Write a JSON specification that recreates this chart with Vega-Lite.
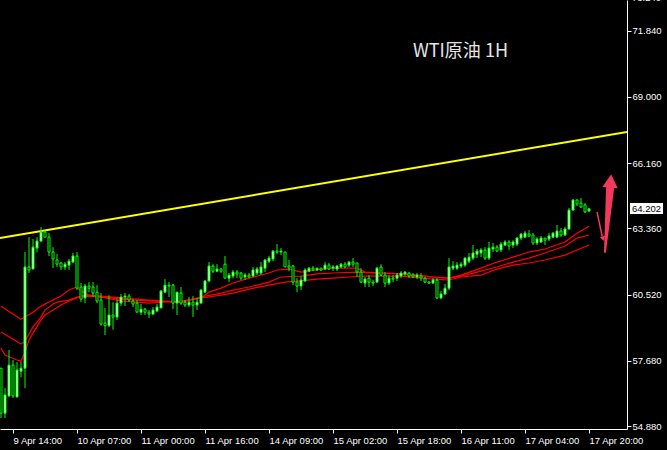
{
"$schema": "https://vega.github.io/schema/vega-lite/v6.json",
"width": 627, "height": 429,
"autosize": {"type": "none"},
"padding": {"left": 0, "top": 0, "right": 40, "bottom": 21},
"background": "#000000",
"config": {"view": {"stroke": null}},
"datasets": {
"candles": [
{"i":0,"o":57.37,"h":57.37,"l":55.23,"c":55.44},
{"i":1,"o":55.44,"h":56.51,"l":55.23,"c":56.22},
{"i":2,"o":56.18,"h":58.15,"l":56.13,"c":57.50},
{"i":3,"o":57.50,"h":57.72,"l":56.09,"c":56.18},
{"i":4,"o":56.13,"h":57.63,"l":56.13,"c":57.29},
{"i":5,"o":57.24,"h":57.63,"l":56.98,"c":57.37},
{"i":6,"o":57.37,"h":62.35,"l":56.51,"c":61.71},
{"i":7,"o":61.71,"h":62.99,"l":61.45,"c":61.58},
{"i":8,"o":61.62,"h":62.91,"l":61.62,"c":62.56},
{"i":9,"o":62.52,"h":62.99,"l":62.35,"c":62.82},
{"i":10,"o":62.82,"h":63.42,"l":62.78,"c":63.21},
{"i":11,"o":63.21,"h":63.29,"l":62.99,"c":62.99},
{"i":12,"o":62.99,"h":63.16,"l":62.18,"c":62.35},
{"i":13,"o":62.35,"h":62.56,"l":61.66,"c":62.05},
{"i":14,"o":62.01,"h":62.26,"l":61.71,"c":61.83},
{"i":15,"o":61.88,"h":61.92,"l":61.58,"c":61.71},
{"i":16,"o":61.71,"h":61.92,"l":61.58,"c":61.83},
{"i":17,"o":61.79,"h":62.05,"l":61.58,"c":61.96},
{"i":18,"o":61.92,"h":62.31,"l":61.88,"c":62.18},
{"i":19,"o":62.18,"h":62.35,"l":60.72,"c":60.80},
{"i":20,"o":60.85,"h":61.02,"l":60.20,"c":60.33},
{"i":21,"o":60.38,"h":60.98,"l":60.16,"c":60.89},
{"i":22,"o":60.89,"h":61.06,"l":60.63,"c":60.80},
{"i":23,"o":60.85,"h":61.06,"l":60.42,"c":60.59},
{"i":24,"o":60.63,"h":60.93,"l":60.16,"c":60.25},
{"i":25,"o":60.29,"h":60.59,"l":59.19,"c":59.26},
{"i":26,"o":59.30,"h":59.95,"l":58.79,"c":59.19},
{"i":27,"o":59.19,"h":60.50,"l":59.14,"c":59.65},
{"i":28,"o":59.65,"h":60.20,"l":59.02,"c":59.56},
{"i":29,"o":59.56,"h":60.33,"l":59.43,"c":60.16},
{"i":30,"o":60.16,"h":60.55,"l":60.03,"c":60.42},
{"i":31,"o":60.42,"h":60.59,"l":60.03,"c":60.46},
{"i":32,"o":60.46,"h":60.55,"l":60.20,"c":60.29},
{"i":33,"o":60.25,"h":60.33,"l":59.99,"c":60.12},
{"i":34,"o":60.16,"h":60.29,"l":59.77,"c":59.77},
{"i":35,"o":59.77,"h":60.12,"l":59.65,"c":59.90},
{"i":36,"o":59.90,"h":59.95,"l":59.65,"c":59.77},
{"i":37,"o":59.77,"h":59.86,"l":59.52,"c":59.69},
{"i":38,"o":59.69,"h":59.99,"l":59.65,"c":59.86},
{"i":39,"o":59.82,"h":60.12,"l":59.77,"c":59.99},
{"i":40,"o":59.95,"h":60.72,"l":59.95,"c":60.68},
{"i":41,"o":60.63,"h":61.19,"l":60.59,"c":60.93},
{"i":42,"o":60.93,"h":61.06,"l":60.42,"c":60.89},
{"i":43,"o":60.93,"h":60.98,"l":59.90,"c":60.16},
{"i":44,"o":60.16,"h":60.63,"l":59.65,"c":60.63},
{"i":45,"o":60.59,"h":60.85,"l":60.08,"c":60.16},
{"i":46,"o":60.20,"h":60.29,"l":59.99,"c":60.08},
{"i":47,"o":60.08,"h":60.42,"l":59.99,"c":60.20},
{"i":48,"o":60.20,"h":60.46,"l":59.56,"c":60.08},
{"i":49,"o":60.08,"h":60.38,"l":59.86,"c":60.20},
{"i":50,"o":60.16,"h":60.76,"l":60.12,"c":60.72},
{"i":51,"o":60.63,"h":61.15,"l":60.63,"c":61.11},
{"i":52,"o":61.11,"h":61.92,"l":61.06,"c":61.75},
{"i":53,"o":61.75,"h":61.83,"l":61.45,"c":61.53},
{"i":54,"o":61.53,"h":61.83,"l":61.49,"c":61.62},
{"i":55,"o":61.62,"h":61.66,"l":61.45,"c":61.53},
{"i":56,"o":61.83,"h":62.18,"l":61.23,"c":61.23},
{"i":57,"o":61.23,"h":61.45,"l":61.06,"c":61.36},
{"i":58,"o":61.32,"h":61.58,"l":61.23,"c":61.49},
{"i":59,"o":61.49,"h":61.58,"l":61.23,"c":61.41},
{"i":60,"o":61.45,"h":61.49,"l":61.15,"c":61.23},
{"i":61,"o":61.28,"h":61.45,"l":61.15,"c":61.36},
{"i":62,"o":61.36,"h":61.45,"l":61.23,"c":61.28},
{"i":63,"o":61.32,"h":61.71,"l":61.28,"c":61.58},
{"i":64,"o":61.45,"h":61.71,"l":61.36,"c":61.62},
{"i":65,"o":61.45,"h":61.92,"l":61.36,"c":61.71},
{"i":66,"o":61.66,"h":62.05,"l":61.49,"c":62.01},
{"i":67,"o":61.96,"h":62.18,"l":61.88,"c":62.09},
{"i":68,"o":62.05,"h":62.44,"l":61.96,"c":62.39},
{"i":69,"o":62.39,"h":62.69,"l":62.26,"c":62.35},
{"i":70,"o":62.35,"h":62.52,"l":62.22,"c":62.39},
{"i":71,"o":62.35,"h":62.35,"l":61.71,"c":61.71},
{"i":72,"o":61.75,"h":62.01,"l":61.53,"c":61.66},
{"i":73,"o":61.75,"h":61.79,"l":60.93,"c":61.06},
{"i":74,"o":61.06,"h":61.23,"l":60.63,"c":60.89},
{"i":75,"o":60.89,"h":61.32,"l":60.72,"c":61.15},
{"i":76,"o":61.11,"h":61.66,"l":61.06,"c":61.58},
{"i":77,"o":61.53,"h":61.71,"l":61.49,"c":61.66},
{"i":78,"o":61.66,"h":61.75,"l":61.53,"c":61.58},
{"i":79,"o":61.58,"h":61.66,"l":61.53,"c":61.66},
{"i":80,"o":61.66,"h":61.66,"l":61.53,"c":61.58},
{"i":81,"o":61.62,"h":61.92,"l":61.58,"c":61.79},
{"i":82,"o":61.79,"h":61.88,"l":61.58,"c":61.62},
{"i":83,"o":61.66,"h":61.79,"l":61.53,"c":61.71},
{"i":84,"o":61.62,"h":61.79,"l":61.53,"c":61.75},
{"i":85,"o":61.71,"h":61.88,"l":61.66,"c":61.83},
{"i":86,"o":61.83,"h":61.92,"l":61.66,"c":61.71},
{"i":87,"o":61.79,"h":61.96,"l":61.71,"c":61.92},
{"i":88,"o":61.92,"h":62.09,"l":61.71,"c":61.83},
{"i":89,"o":61.88,"h":61.88,"l":61.28,"c":61.49},
{"i":90,"o":61.49,"h":61.66,"l":61.02,"c":61.06},
{"i":91,"o":61.02,"h":61.28,"l":60.85,"c":61.19},
{"i":92,"o":61.23,"h":61.36,"l":60.85,"c":61.06},
{"i":93,"o":61.06,"h":61.15,"l":60.89,"c":61.02},
{"i":94,"o":61.06,"h":61.71,"l":61.02,"c":61.66},
{"i":95,"o":61.71,"h":61.83,"l":61.32,"c":61.36},
{"i":96,"o":61.36,"h":61.49,"l":60.85,"c":61.02},
{"i":97,"o":61.02,"h":61.36,"l":60.93,"c":61.23},
{"i":98,"o":61.23,"h":61.36,"l":61.06,"c":61.19},
{"i":99,"o":61.23,"h":61.45,"l":61.11,"c":61.36},
{"i":100,"o":61.32,"h":61.53,"l":61.23,"c":61.45},
{"i":101,"o":61.41,"h":61.53,"l":61.32,"c":61.49},
{"i":102,"o":61.45,"h":61.49,"l":61.23,"c":61.32},
{"i":103,"o":61.36,"h":61.45,"l":61.23,"c":61.28},
{"i":104,"o":61.28,"h":61.45,"l":61.19,"c":61.36},
{"i":105,"o":61.32,"h":61.45,"l":61.11,"c":61.23},
{"i":106,"o":61.23,"h":61.28,"l":61.02,"c":61.06},
{"i":107,"o":61.06,"h":61.11,"l":60.98,"c":61.02},
{"i":108,"o":61.02,"h":61.23,"l":60.98,"c":61.15},
{"i":109,"o":61.15,"h":61.23,"l":60.33,"c":60.38},
{"i":110,"o":60.38,"h":60.68,"l":60.33,"c":60.55},
{"i":111,"o":60.55,"h":60.98,"l":60.50,"c":60.80},
{"i":112,"o":60.80,"h":62.09,"l":60.72,"c":61.71},
{"i":113,"o":61.66,"h":61.96,"l":61.58,"c":61.75},
{"i":114,"o":61.66,"h":61.92,"l":61.58,"c":61.79},
{"i":115,"o":61.75,"h":61.92,"l":61.66,"c":61.83},
{"i":116,"o":61.79,"h":62.13,"l":61.71,"c":62.09},
{"i":117,"o":61.96,"h":62.31,"l":61.88,"c":62.13},
{"i":118,"o":62.09,"h":62.65,"l":62.01,"c":62.31},
{"i":119,"o":62.26,"h":62.48,"l":62.09,"c":62.39},
{"i":120,"o":62.31,"h":62.52,"l":62.13,"c":62.44},
{"i":121,"o":62.44,"h":62.56,"l":62.01,"c":62.09},
{"i":122,"o":62.09,"h":62.78,"l":62.01,"c":62.52},
{"i":123,"o":62.48,"h":62.74,"l":62.35,"c":62.56},
{"i":124,"o":62.56,"h":62.65,"l":62.35,"c":62.39},
{"i":125,"o":62.44,"h":62.78,"l":62.35,"c":62.69},
{"i":126,"o":62.65,"h":62.86,"l":62.61,"c":62.78},
{"i":127,"o":62.78,"h":62.86,"l":62.44,"c":62.61},
{"i":128,"o":62.65,"h":62.86,"l":62.52,"c":62.78},
{"i":129,"o":62.69,"h":62.99,"l":62.61,"c":62.95},
{"i":130,"o":62.95,"h":63.16,"l":62.86,"c":63.12},
{"i":131,"o":62.99,"h":63.25,"l":62.95,"c":63.16},
{"i":132,"o":63.12,"h":63.29,"l":62.99,"c":63.04},
{"i":133,"o":63.08,"h":63.16,"l":62.65,"c":62.74},
{"i":134,"o":62.74,"h":62.99,"l":62.65,"c":62.91},
{"i":135,"o":62.78,"h":63.04,"l":62.74,"c":62.95},
{"i":136,"o":62.95,"h":62.95,"l":62.65,"c":62.86},
{"i":137,"o":62.91,"h":63.16,"l":62.82,"c":63.04},
{"i":138,"o":62.99,"h":63.21,"l":62.95,"c":63.16},
{"i":139,"o":62.99,"h":63.51,"l":62.95,"c":63.25},
{"i":140,"o":63.25,"h":63.38,"l":62.99,"c":63.08},
{"i":141,"o":63.08,"h":63.42,"l":63.04,"c":63.34},
{"i":142,"o":63.34,"h":64.24,"l":63.29,"c":64.15},
{"i":143,"o":64.15,"h":64.62,"l":64.11,"c":64.58},
{"i":144,"o":64.58,"h":64.62,"l":64.32,"c":64.41},
{"i":145,"o":64.45,"h":64.67,"l":64.24,"c":64.28},
{"i":146,"o":64.37,"h":64.45,"l":64.02,"c":64.07},
{"i":147,"o":64.11,"h":64.24,"l":64.07,"c":64.20}
],
"maA": [
{"i":0,"p":60.03},{"i":5,"p":59.47},{"i":8,"p":59.77},{"i":10,"p":60.03},{"i":13,"p":60.29},{"i":15,"p":60.46},{"i":17,"p":60.72},{"i":19,"p":60.85},{"i":20,"p":60.68},{"i":22,"p":60.50},{"i":25,"p":60.46},{"i":30,"p":60.38},{"i":37,"p":60.29},{"i":45,"p":60.20},{"i":50,"p":60.38},{"i":55,"p":60.50},{"i":58,"p":60.59},{"i":62,"p":60.76},{"i":67,"p":60.93},{"i":71,"p":61.06},{"i":75,"p":61.11},{"i":79,"p":61.19},{"i":83,"p":61.23},{"i":87,"p":61.28},{"i":91,"p":61.32},{"i":100,"p":61.32},{"i":108,"p":61.19},{"i":112,"p":61.15},{"i":115,"p":61.28},{"i":120,"p":61.36},{"i":124,"p":61.62},{"i":128,"p":61.79},{"i":132,"p":61.88},{"i":136,"p":62.01},{"i":141,"p":62.22},{"i":144,"p":62.44},{"i":147,"p":62.65}
],
"maB": [
{"i":0,"p":58.92},{"i":5,"p":58.40},{"i":6,"p":58.53},{"i":7,"p":58.83},{"i":8,"p":59.14},{"i":10,"p":59.56},{"i":11,"p":59.86},{"i":13,"p":60.12},{"i":14,"p":60.20},{"i":17,"p":60.29},{"i":19,"p":60.42},{"i":22,"p":60.46},{"i":25,"p":60.42},{"i":30,"p":60.33},{"i":37,"p":60.25},{"i":45,"p":60.20},{"i":50,"p":60.42},{"i":55,"p":60.59},{"i":58,"p":60.72},{"i":62,"p":60.85},{"i":67,"p":61.06},{"i":70,"p":61.28},{"i":75,"p":61.32},{"i":79,"p":61.41},{"i":83,"p":61.45},{"i":89,"p":61.49},{"i":93,"p":61.45},{"i":100,"p":61.41},{"i":108,"p":61.28},{"i":112,"p":61.23},{"i":115,"p":61.32},{"i":120,"p":61.53},{"i":124,"p":61.71},{"i":128,"p":61.92},{"i":132,"p":62.09},{"i":136,"p":62.31},{"i":141,"p":62.61},{"i":144,"p":62.95},{"i":147,"p":63.08}
],
"maC": [
{"i":0,"p":58.23},{"i":1,"p":57.93},{"i":4,"p":57.72},{"i":5,"p":57.67},{"i":6,"p":58.06},{"i":7,"p":58.57},{"i":8,"p":58.87},{"i":10,"p":59.43},{"i":11,"p":59.65},{"i":13,"p":59.86},{"i":15,"p":60.08},{"i":17,"p":60.25},{"i":20,"p":60.46},{"i":22,"p":60.50},{"i":25,"p":60.42},{"i":30,"p":60.25},{"i":37,"p":60.16},{"i":45,"p":60.25},{"i":50,"p":60.38},{"i":52,"p":60.63},{"i":55,"p":60.80},{"i":58,"p":61.02},{"i":62,"p":61.23},{"i":67,"p":61.45},{"i":69,"p":61.58},{"i":72,"p":61.62},{"i":75,"p":61.49},{"i":79,"p":61.58},{"i":83,"p":61.66},{"i":89,"p":61.66},{"i":91,"p":61.49},{"i":96,"p":61.45},{"i":100,"p":61.41},{"i":104,"p":61.36},{"i":108,"p":61.28},{"i":112,"p":61.23},{"i":115,"p":61.36},{"i":120,"p":61.66},{"i":124,"p":61.92},{"i":128,"p":62.13},{"i":132,"p":62.35},{"i":136,"p":62.48},{"i":141,"p":62.78},{"i":144,"p":63.16},{"i":147,"p":63.46}
],
"trend": [{"i":-0.25,"p":62.95},{"i":156.5,"p":67.50}],
"bigArrow": [{"i":151.0,"p":62.35,"w":2},{"i":152.25,"p":65.05,"w":8}],
"bigHead": [{"i":152.4,"p":65.4}],
"smallArrow": [{"i":149.0,"p":64.07},{"i":150.3,"p":63.02}],
"smallHead": [{"i":150.5,"p":62.92}],
"priceBox": [{"i":157.25,"i2":165.5,"p":64.45,"p2":63.98,"t":"64.202","y":64.202}],
"topLabel": [{"i":157.75,"p":73.24,"t":"73.240"}],
"title": [{"i":103,"p":70.95,"t":"WTI原油 1H"}]
},
"layer": [
{
"data": {"name": "trend"},
"mark": {"type": "line", "color": "#ffff00", "strokeWidth": 2, "clip": true},
"encoding": {
"x": {"field": "i", "type": "quantitative",
"scale": {"domain": [-0.25, 156.5], "nice": false, "zero": false, "padding": 0},
"axis": {"orient": "bottom", "values": [3,19,35,51,67,83,99,115,131,147],
"labelExpr": "['9 Apr 14:00','10 Apr 07:00','11 Apr 00:00','11 Apr 16:00','14 Apr 09:00','15 Apr 02:00','15 Apr 18:00','16 Apr 11:00','17 Apr 04:00','17 Apr 20:00'][round((datum.value-3)/16)]",
"title": null, "grid": false, "domainColor": "#ffffff", "domainWidth": 1, "tickColor": "#ffffff", "tickSize": 4, "tickWidth": 1,
"labelColor": "#ffffff", "labelFont": "Liberation Sans", "labelFontSize": 9.5, "labelAlign": "left", "labelBaseline": "top", "labelPadding": 2, "labelOverlap": false, "labelFlush": false, "labelBound": false}},
"y": {"field": "p", "type": "quantitative",
"scale": {"domain": [54.76, 73.16], "nice": false, "zero": false, "padding": 0},
"axis": {"orient": "right", "values": [54.88,56.28,57.68,59.12,60.52,61.92,63.36,64.76,66.16,67.6,69.0,70.4,71.84], "format": ".3f",
"title": null, "grid": false, "domainColor": "#ffffff", "domainWidth": 1, "tickColor": "#ffffff", "tickSize": 4, "tickWidth": 1,
"labelColor": "#ffffff", "labelFont": "Liberation Sans", "labelFontSize": 9.5, "labelAlign": "left", "labelBaseline": "middle", "labelPadding": 1, "labelOverlap": false, "labelFlush": false, "labelBound": false}}
}
},
{
"mark": {"type": "rule", "color": "#7f8fa6", "strokeWidth": 1},
"encoding": {"y": {"datum": 64.202, "type": "quantitative"}}
},
{
"data": {"name": "maA"},
"mark": {"type": "line", "color": "#ff0000", "strokeWidth": 1.2},
"encoding": {"x": {"field": "i", "type": "quantitative"}, "y": {"field": "p", "type": "quantitative"}}
},
{
"data": {"name": "maB"},
"mark": {"type": "line", "color": "#ff0000", "strokeWidth": 1.2},
"encoding": {"x": {"field": "i", "type": "quantitative"}, "y": {"field": "p", "type": "quantitative"}}
},
{
"data": {"name": "maC"},
"mark": {"type": "line", "color": "#ff0000", "strokeWidth": 1.2},
"encoding": {"x": {"field": "i", "type": "quantitative"}, "y": {"field": "p", "type": "quantitative"}}
},
{
"data": {"name": "candles"},
"mark": {"type": "rule", "color": "#00ff00", "strokeWidth": 1},
"encoding": {"x": {"field": "i", "type": "quantitative"}, "y": {"field": "l", "type": "quantitative"}, "y2": {"field": "h"}}
},
{
"data": {"name": "candles"},
"mark": {"type": "bar", "size": 2, "stroke": "#00ff00", "strokeWidth": 1},
"encoding": {"x": {"field": "i", "type": "quantitative"}, "y": {"field": "o", "type": "quantitative"}, "y2": {"field": "c"},
"fill": {"condition": {"test": "datum.c > datum.o", "value": "#ffffff"}, "value": "#000000"}}
},
{
"data": {"name": "bigArrow"},
"mark": {"type": "trail", "color": "#f2385c"},
"encoding": {"x": {"field": "i", "type": "quantitative"}, "y": {"field": "p", "type": "quantitative"}, "size": {"field": "w", "type": "quantitative", "scale": null, "legend": null}}
},
{
"data": {"name": "bigHead"},
"mark": {"type": "point", "shape": "triangle-up", "filled": true, "color": "#f2385c", "opacity": 1, "size": 240, "angle": 5},
"encoding": {"x": {"field": "i", "type": "quantitative"}, "y": {"field": "p", "type": "quantitative"}}
},
{
"data": {"name": "smallArrow"},
"mark": {"type": "line", "color": "#f2385c", "strokeWidth": 1.5},
"encoding": {"x": {"field": "i", "type": "quantitative"}, "y": {"field": "p", "type": "quantitative"}}
},
{
"data": {"name": "smallHead"},
"mark": {"type": "point", "shape": "triangle-down", "filled": true, "color": "#f2385c", "opacity": 1, "size": 30, "angle": -12},
"encoding": {"x": {"field": "i", "type": "quantitative"}, "y": {"field": "p", "type": "quantitative"}}
},
{
"data": {"name": "priceBox"},
"mark": {"type": "rect", "fill": "#ffffff"},
"encoding": {"x": {"field": "i", "type": "quantitative"}, "x2": {"field": "i2"}, "y": {"field": "p", "type": "quantitative"}, "y2": {"field": "p2"}}
},
{
"data": {"name": "priceBox"},
"mark": {"type": "text", "color": "#000000", "font": "Liberation Sans", "fontSize": 9.5, "align": "left", "baseline": "middle", "dx": 2},
"encoding": {"x": {"field": "i", "type": "quantitative"}, "y": {"field": "y", "type": "quantitative"}, "text": {"field": "t"}}
},
{
"data": {"name": "topLabel"},
"mark": {"type": "text", "color": "#ffffff", "font": "Liberation Sans", "fontSize": 9.5, "align": "left", "baseline": "middle"},
"encoding": {"x": {"field": "i", "type": "quantitative"}, "y": {"field": "p", "type": "quantitative"}, "text": {"field": "t"}}
},
{
"data": {"name": "title"},
"mark": {"type": "text", "color": "#e6e6e6", "font": "Noto Sans CJK SC", "fontSize": 18, "align": "left", "baseline": "middle"},
"encoding": {"x": {"field": "i", "type": "quantitative"}, "y": {"field": "p", "type": "quantitative"}, "text": {"field": "t"}}
}
]
}
